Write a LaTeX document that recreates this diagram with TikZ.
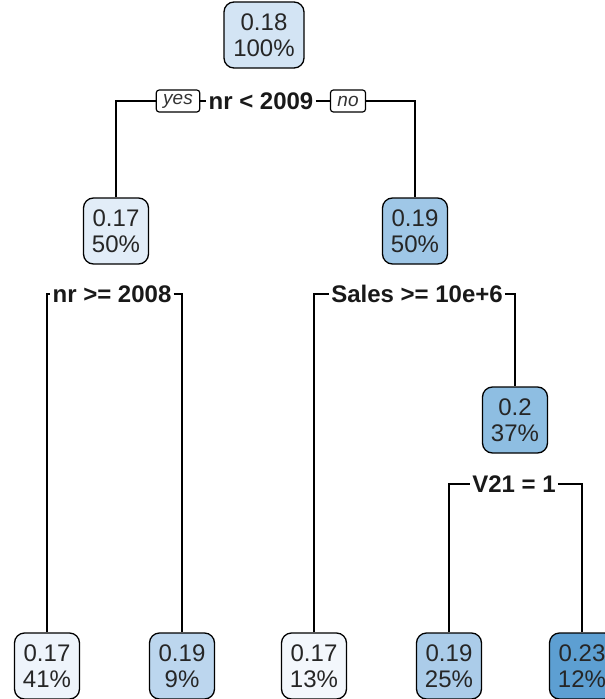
\documentclass[tikz,border=0pt]{standalone}
\usepackage{fontspec}
\setmainfont{Liberation Sans}
\definecolor{cA}{HTML}{D3E4F4}
\definecolor{cB}{HTML}{E2EDF8}
\definecolor{cC}{HTML}{9FC7E7}
\definecolor{cD}{HTML}{8EBEE2}
\definecolor{cE}{HTML}{EEF4FB}
\definecolor{cF}{HTML}{BCD6EE}
\definecolor{cG}{HTML}{F3F7FC}
\definecolor{cH}{HTML}{ABCCE9}
\definecolor{cI}{HTML}{5D9FD2}
\begin{document}
\begin{tikzpicture}[x=1pt,y=-1pt,
  nd/.style={draw=black, line width=1.3pt, rounded corners=10pt, minimum width=65pt,
    minimum height=66pt, align=center, inner sep=0pt,
    font=\fontsize{24}{26}\selectfont, text=black!85},
  lbl/.style={font=\bfseries\fontsize{24}{26}\selectfont, inner xsep=2pt, inner ysep=0pt, text=black!90},
  yn/.style={draw=black, line width=1.2pt, fill=white, rounded corners=3pt,
    font=\itshape\fontsize{19}{19}\selectfont, minimum height=22pt, inner xsep=7pt, inner ysep=1pt, text=black!80},
  conn/.style={line width=1.3pt, draw=black}]
\useasboundingbox (0,0) rectangle (605,699);
% nodes
\node[nd, fill=cA, minimum width=80pt] (n1) at (264,35) {0.18\\100\%};
\node[nd, fill=cB] (n2) at (116,231) {0.17\\50\%};
\node[nd, fill=cC] (n3) at (415,231) {0.19\\50\%};
\node[nd, fill=cD] (n7) at (515,420) {0.2\\37\%};
\node[nd, fill=cE] (l1) at (47,666) {0.17\\41\%};
\node[nd, fill=cF] (l2) at (182,666) {0.19\\9\%};
\node[nd, fill=cG] (l3) at (314,666) {0.17\\13\%};
\node[nd, fill=cH] (l4) at (449,666) {0.19\\25\%};
\node[nd, fill=cI] (l5) at (582,666) {0.23\\12\%};
% split labels
\node[lbl] (s1) at (261,101) {nr < 2009};
\node[yn] (yes) at (178,101) {yes};
\node[yn] (no) at (348,101) {no};
\node[lbl] (s2) at (112,294) {nr >= 2008};
\node[lbl] (s3) at (417,294) {Sales >= 10e+6};
\node[lbl] (s4) at (514,484) {V21 = 1};
% connectors
\draw[conn] (n2.north) |- (yes.west);
\draw[conn] (yes.east) -- (s1.west);
\draw[conn] (s1.east) -- (no.west);
\draw[conn] (no.east) -| (n3.north);
\draw[conn] (l1.north) |- (s2.west);
\draw[conn] (s2.east) -| (l2.north);
\draw[conn] (l3.north) |- (s3.west);
\draw[conn] (s3.east) -| (n7.north);
\draw[conn] (l4.north) |- (s4.west);
\draw[conn] (s4.east) -| (l5.north);
\end{tikzpicture}
\end{document}
